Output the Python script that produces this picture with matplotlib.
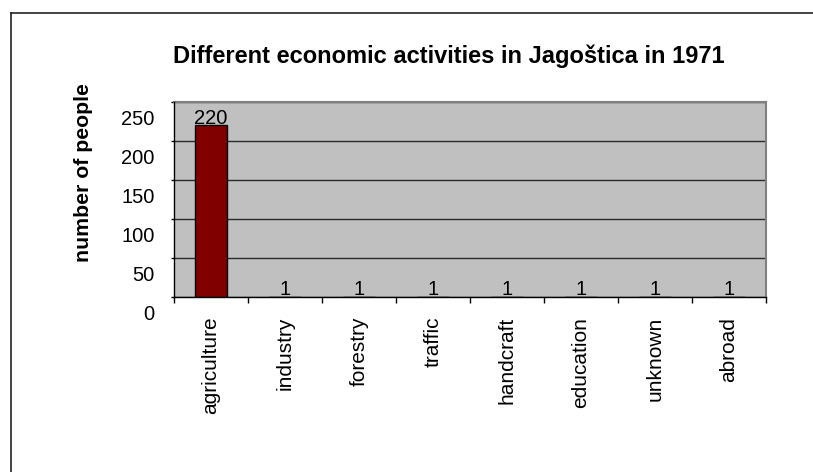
import matplotlib
matplotlib.use("Agg")
import matplotlib.pyplot as plt
import matplotlib.transforms as mtransforms
from matplotlib.lines import Line2D

categories = ["agriculture", "industry", "forestry", "traffic",
              "handcraft", "education", "unknown", "abroad"]
values = [220, 1, 1, 1, 1, 1, 1, 1]
yticks = [0, 50, 100, 150, 200, 250]
title = "Different economic activities in Jagoštica in 1971"
ylabel = "number of people"

plt.rcParams['font.family'] = ['Liberation Sans', 'DejaVu Sans']

W, H = 813, 472
fig = plt.figure(figsize=(W / 100, H / 100), dpi=100)
fig.patch.set_facecolor("white")

# outer chart border (top and left visible)
fig.add_artist(Line2D([10.7 / W, 1.0], [1 - 12.7 / H] * 2, transform=fig.transFigure,
                      color="#222222", lw=1.2))
fig.add_artist(Line2D([10.7 / W] * 2, [0.0, 1 - 12.7 / H], transform=fig.transFigure,
                      color="#222222", lw=1.2))

left, right, top, bottom = 174, 766, 101.7, 297.3
ax = fig.add_axes([left / W, 1 - bottom / H, (right - left) / W, (bottom - top) / H])
ax.set_facecolor("#c0c0c0")

x = list(range(len(categories)))
ax.bar(x, values, width=0.42, color="#800000", edgecolor="black", linewidth=1.0, zorder=2)
ax.set_xlim(-0.5, len(categories) - 0.5)
ax.set_ylim(0, 250)
ax.set_yticks(yticks)
ax.set_yticklabels([str(v) for v in yticks], fontsize=14.5)
ax.yaxis.grid(True, color="#2a2a2a", linewidth=1.0, zorder=1)
ax.set_axisbelow(True)

# category ticks at boundaries, labels at centers
ax.set_xticks([i - 0.5 for i in range(len(categories) + 1)])
ax.set_xticklabels([])
ax.set_xticks(x, minor=True)
ax.set_xticklabels(categories, minor=True, rotation=90, fontsize=15, va="top", ha="center")
ax.tick_params(axis="x", which="major", length=4.3, width=1.0, color="black", direction="out")
ax.tick_params(axis="x", which="minor", length=0, pad=14)
ax.tick_params(axis="y", length=2, width=1.0, direction="out", pad=12)

# y tick labels sit lower than their ticks, as in the reference
offset = mtransforms.ScaledTranslation(0, -15.6 / 100, fig.dpi_scale_trans)
for lab in ax.get_yticklabels():
    lab.set_transform(lab.get_transform() + offset)

for side in ("top", "right"):
    ax.spines[side].set_color("#808080")
    ax.spines[side].set_linewidth(1.5)
for side in ("left", "bottom"):
    ax.spines[side].set_color("black")
    ax.spines[side].set_linewidth(1.0)
    ax.spines[side].set_zorder(3)

for xi, v in zip(x, values):
    ax.annotate(str(v), xy=(xi, v), xytext=(0, 1), textcoords="offset points",
                ha="center", va="baseline", fontsize=14.5, zorder=4)

fig.text(449 / W, 1 - 63.3 / H, title, ha="center", va="baseline",
         fontsize=17, fontweight="bold")
fig.text(83 / W, 1 - 173 / H, ylabel, ha="center", va="center", rotation=90,
         fontsize=15.3, fontweight="bold")

fig.savefig("out.png", dpi=100)
